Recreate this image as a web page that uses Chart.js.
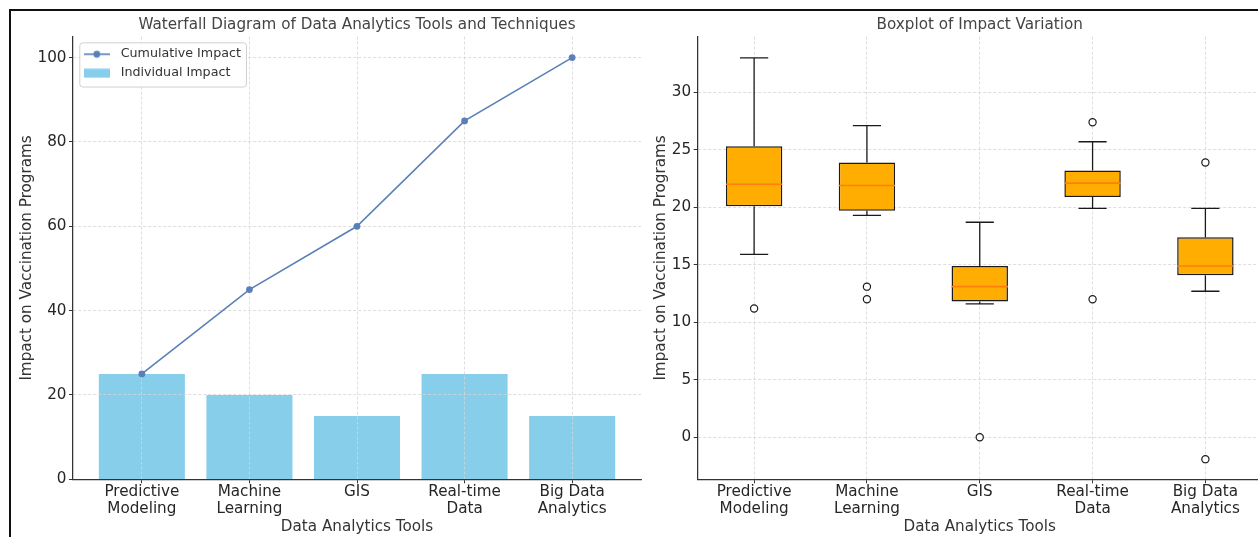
<!DOCTYPE html>
<html lang="en">
<head>
<meta charset="UTF-8">
<title>Data Analytics Tools | Impact on Vaccination Programs</title>
<script src="https://cdn.jsdelivr.net/npm/chart.js@4"></script>
<style>
  html, body { margin: 0; padding: 0; background: #fff; overflow: hidden; width: 1258px; height: 537px; }
  #waterfall { position: absolute; left: 0; top: 0; }
  #boxplot { position: absolute; left: 645px; top: 0; }
  .frame { position: absolute; left: 9px; top: 9px; width: 1300px; height: 600px;
           border-top: 2px solid #111; border-left: 2px solid #111; pointer-events: none; }
</style>
</head>
<body>
<canvas id="waterfall" width="645" height="537"></canvas>
<canvas id="boxplot" width="622" height="537"></canvas>
<div class="frame"></div>
<script>
// data
const tools = ['Predictive Modeling', 'Machine Learning', 'GIS', 'Real-time Data', 'Big Data Analytics'];
const toolTicks = [['Predictive', 'Modeling'], ['Machine', 'Learning'], ['GIS'], ['Real-time', 'Data'], ['Big Data', 'Analytics']];
const individualImpact = [25, 20, 15, 25, 15];
const cumulativeImpact = [25, 45, 60, 85, 100];
const waterfallYTicks = [0, 20, 40, 60, 80, 100];

const boxQ1 = [20.1, 19.7, 11.8, 20.9, 14.1];
const boxMedian = [22.0, 21.9, 13.1, 22.1, 14.9];
const boxQ3 = [25.3, 23.9, 14.9, 23.2, 17.4];
const whiskerLow = [15.9, 19.3, 11.6, 19.9, 12.7];
const whiskerHigh = [33.0, 27.1, 18.7, 25.7, 19.9];
const outliers = [[11.2], [13.1, 12.0], [0.0], [27.4, 12.0], [23.9, -1.9]];
const boxYTicks = [0, 5, 10, 15, 20, 25, 30];

const fontSize = 15.2;
Chart.defaults.font.family = "'DejaVu Sans', sans-serif";
Chart.defaults.font.size = fontSize;
Chart.defaults.color = '#262626';
Chart.defaults.animation = false;

const lineBlue = '#5a80b8';
const skyBlue = '#87ceeb';
const boxOrange = '#ffad00';
const medianOrange = '#ff7f0e';
const ink = '#1a1a1a';
const gridColor = '#d6d6d6';
const axisColor = '#333';

const legendFontSize = 12.7;
const legendPadding = 6.3;
const legendIconBox = 35;
const legendShiftY = 5;

// legend icons: line with marker, and a filled swatch
function makeIcon(kind) {
  const c = document.createElement('canvas');
  c.width = 26; c.height = 10;
  const g = c.getContext('2d');
  if (kind === 'line') {
    g.strokeStyle = lineBlue; g.lineWidth = 1.6;
    g.beginPath(); g.moveTo(0, 5); g.lineTo(26, 5); g.stroke();
    g.fillStyle = lineBlue;
    g.beginPath(); g.arc(13, 5, 3.4, 0, Math.PI * 2); g.fill();
  } else {
    g.fillStyle = skyBlue;
    g.fillRect(0, 0.5, 26, 9);
  }
  return c;
}
const legendIcons = [makeIcon('line'), makeIcon('bar')];

// bars -> grid -> line -> legend, like matplotlib's z-order
const layering = {
  id: 'layering',
  afterInit(chart) {
    const lg = chart.legend;
    if (!lg) return;
    lg._layers = () => [{
      z: 3,
      draw() {
        const ctx = chart.ctx, area = chart.chartArea;
        const x0 = area.left + legendPadding;
        const y0 = area.top + legendPadding + legendShiftY;
        // the line goes under the legend
        chart.getDatasetMeta(0).controller.draw();
        ctx.save();
        ctx.font = legendFontSize + "px 'DejaVu Sans'";
        const tw = Math.max(...lg.legendItems.map(it => ctx.measureText(it.text).width));
        const n = lg.legendItems.length;
        const fx = x0 + 0.5, fy = y0 - 5;
        const fw = legendIconBox + legendFontSize / 2 + tw + 5;
        const fh = n * legendFontSize + (n - 1) * legendPadding + 12.5;
        ctx.beginPath();
        ctx.roundRect(fx, fy, fw, fh, 3);
        ctx.fillStyle = 'rgba(255,255,255,0.85)';
        ctx.fill();
        ctx.strokeStyle = '#d0d0d0';
        ctx.lineWidth = 1;
        ctx.stroke();
        ctx.translate(area.left - lg.left, area.top - lg.top + legendShiftY);
        lg.draw();
        ctx.restore();
      }
    }];
  },
  beforeDatasetDraw(chart, args) {
    if (args.index === 0) return false;
  }
};

function xAxis(min, max, first, gz) {
  return {
    type: 'linear', min: min, max: max, offset: false,
    afterBuildTicks(s) { s.ticks = tools.map((_, i) => ({ value: i + first })); },
    afterFit(s) { s.height = 57.7; },
    ticks: { callback: (v, i) => toolTicks[i], padding: 0, autoSkip: false, maxRotation: 0,
             font: { size: fontSize, lineHeight: 1.15 } },
    grid: { offset: false, color: gridColor, lineWidth: 0.8, tickColor: axisColor, tickLength: 4, tickWidth: 1,
            tickBorderDash: [], z: gz },
    border: { color: axisColor, width: 1.25, dash: [3, 2], z: gz + 1 },
    title: { display: true, text: 'Data Analytics Tools', color: '#333', padding: { top: 0, bottom: 0.5 } }
  };
}

function yAxis(min, max, ticks, width, titlePad, gz) {
  return {
    type: 'linear', min: min, max: max,
    afterBuildTicks(s) { s.ticks = ticks.map(v => ({ value: v })); },
    afterFit(s) { s.width = width; },
    ticks: { padding: 2.5 },
    grid: { color: gridColor, lineWidth: 0.8, tickColor: axisColor, tickLength: 4, tickWidth: 1,
            tickBorderDash: [], z: gz },
    border: { color: axisColor, width: 1.25, dash: [3, 2], z: gz + 1 },
    title: { display: true, text: 'Impact on Vaccination Programs', color: '#333', padding: { top: titlePad, bottom: 0 } }
  };
}

function chartTitle(text) {
  return { display: true, text: text, fullSize: false, color: '#444',
           font: { size: fontSize, weight: 'normal' }, padding: { top: 16, bottom: 2.3 } };
}

// left: waterfall
new Chart(document.getElementById('waterfall'), {
  type: 'bar',
  data: {
    datasets: [{
      type: 'line',
      label: 'Cumulative Impact',
      data: tools.map((_, i) => ({ x: i, y: cumulativeImpact[i] })),
      borderColor: lineBlue,
      backgroundColor: lineBlue,
      borderWidth: 1.6,
      pointRadius: 3.4,
      pointBorderWidth: 0,
      pointBackgroundColor: lineBlue,
      order: 0
    }, {
      type: 'bar',
      label: 'Individual Impact',
      data: tools.map((_, i) => ({ x: i, y: individualImpact[i] })),
      backgroundColor: skyBlue,
      barPercentage: 0.8,
      categoryPercentage: 1,
      order: 1
    }]
  },
  options: {
    responsive: false,
    devicePixelRatio: 1,
    layout: { padding: { left: 0, right: 4, top: 0, bottom: 0 } },
    scales: {
      x: xAxis(-0.64, 4.64, 0, 1),
      y: yAxis(0, 105, waterfallYTicks, 73, 18, 1)
    },
    plugins: {
      title: chartTitle('Waterfall Diagram of Data Analytics Tools and Techniques'),
      tooltip: { enabled: false },
      legend: {
        position: 'chartArea',
        align: 'start',
        labels: {
          usePointStyle: true,
          pointStyleWidth: legendIconBox,
          padding: legendPadding,
          color: '#333',
          font: { size: legendFontSize },
          generateLabels(chart) {
            const items = Chart.defaults.plugins.legend.labels.generateLabels(chart);
            items.forEach(it => { it.pointStyle = legendIcons[it.datasetIndex]; });
            return items;
          }
        }
      }
    }
  },
  plugins: [layering]
});

// right: boxplot built from box, whisker, median and outlier datasets
const whiskerPoints = [];
const medianPoints = [];
const outlierPoints = [];
tools.forEach((_, i) => {
  const x = i + 1;
  whiskerPoints.push({ x: x, y: boxQ3[i] }, { x: x, y: whiskerHigh[i] }, { x: x, y: null },
                     { x: x - 0.125, y: whiskerHigh[i] }, { x: x + 0.125, y: whiskerHigh[i] }, { x: x, y: null },
                     { x: x, y: boxQ1[i] }, { x: x, y: whiskerLow[i] }, { x: x, y: null },
                     { x: x - 0.125, y: whiskerLow[i] }, { x: x + 0.125, y: whiskerLow[i] }, { x: x, y: null });
  medianPoints.push({ x: x - 0.25, y: boxMedian[i] }, { x: x + 0.25, y: boxMedian[i] }, { x: x, y: null });
  outliers[i].forEach(v => outlierPoints.push({ x: x, y: v }));
});

new Chart(document.getElementById('boxplot'), {
  type: 'bar',
  data: {
    datasets: [{
      type: 'bar',
      label: 'Interquartile range',
      data: tools.map((_, i) => ({ x: i + 1, y: [boxQ1[i], boxQ3[i]] })),
      backgroundColor: boxOrange,
      borderColor: ink,
      borderWidth: 1.5,
      borderSkipped: false,
      barPercentage: 0.5,
      categoryPercentage: 1,
      order: 3
    }, {
      type: 'line',
      label: 'Whiskers',
      data: whiskerPoints,
      borderColor: ink,
      borderWidth: 1.3,
      pointRadius: 0,
      fill: false,
      order: 2
    }, {
      type: 'line',
      label: 'Median',
      data: medianPoints,
      borderColor: medianOrange,
      borderWidth: 1.6,
      pointRadius: 0,
      fill: false,
      order: 1
    }, {
      type: 'scatter',
      label: 'Outliers',
      data: outlierPoints,
      pointRadius: 3.6,
      pointBackgroundColor: '#fff',
      pointBorderColor: ink,
      pointBorderWidth: 1.2,
      order: 0
    }]
  },
  options: {
    responsive: false,
    devicePixelRatio: 1,
    layout: { padding: 0 },
    scales: {
      x: xAxis(0.5, 5.5, 1, -1),
      y: yAxis(-3.65, 34.85, boxYTicks, 52.7, 7, -1)
    },
    plugins: {
      title: chartTitle('Boxplot of Impact Variation'),
      tooltip: { enabled: false },
      legend: { display: false }
    }
  }
});
</script>
</body>
</html>
